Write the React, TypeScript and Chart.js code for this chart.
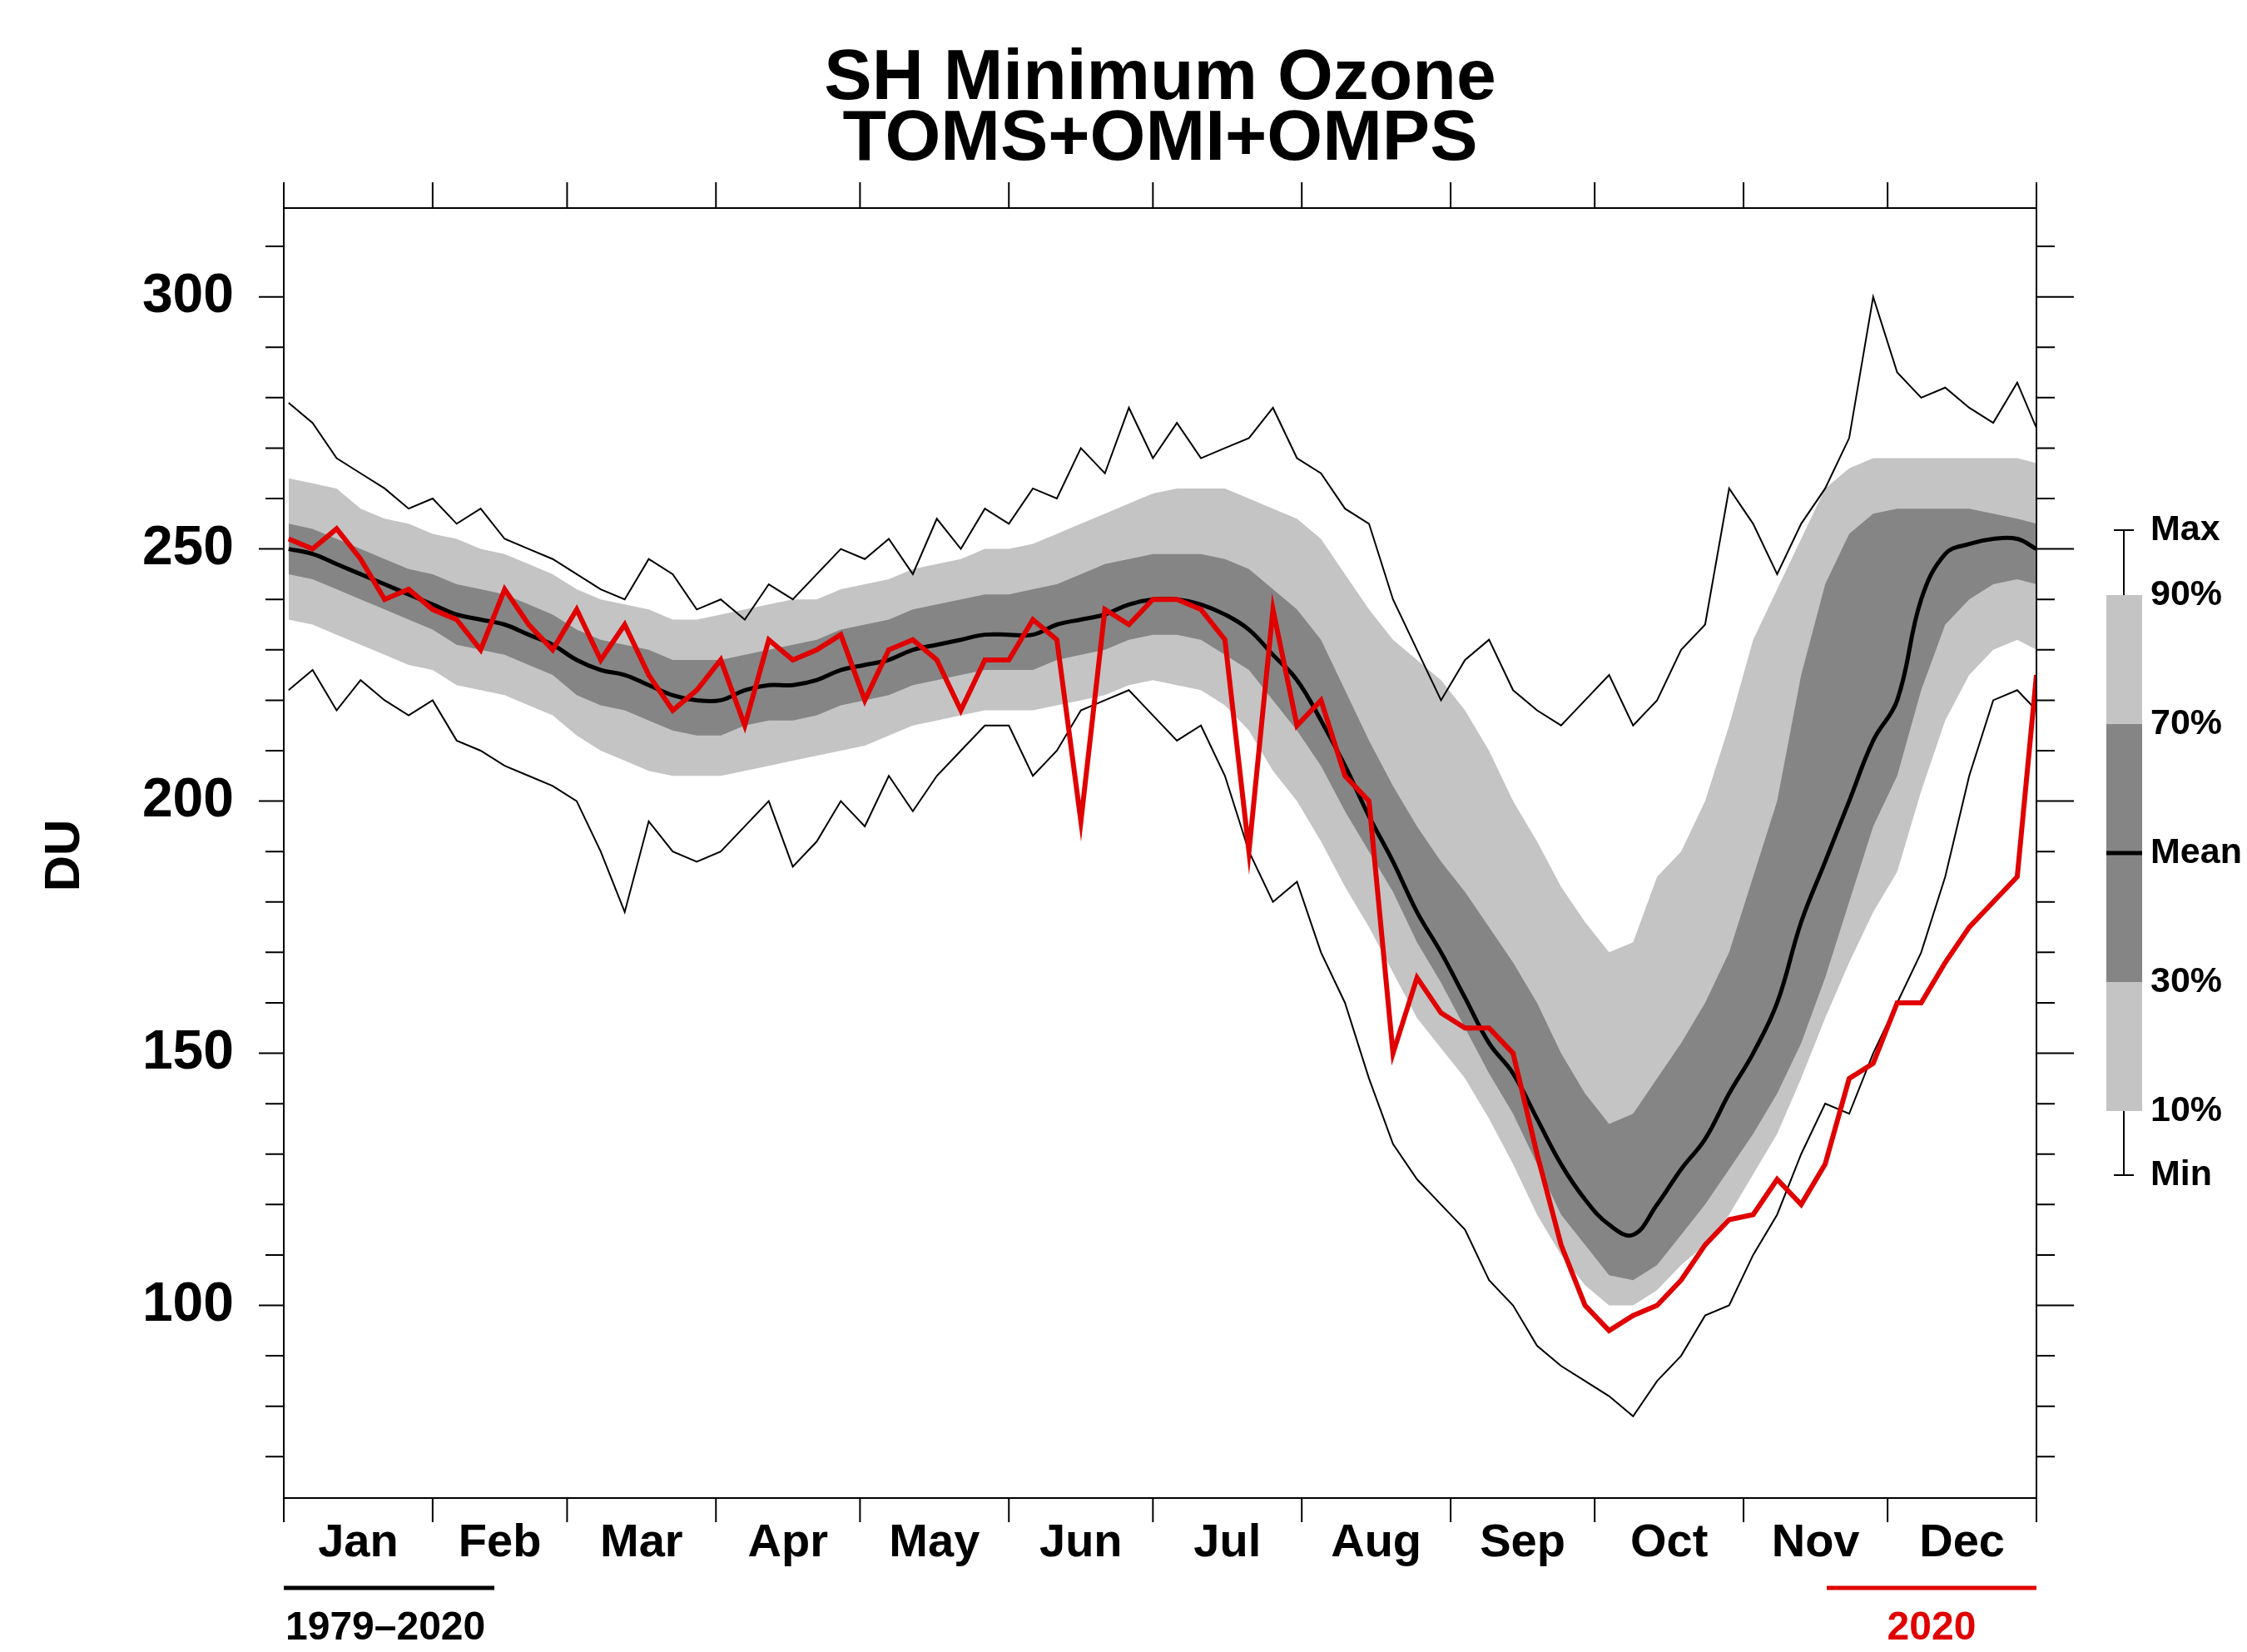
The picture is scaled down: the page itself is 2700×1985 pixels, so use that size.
import React, { useEffect, useRef } from "react";
import { Chart, registerables } from "chart.js";
Chart.register(...registerables);

const days = [1,6,11,16,21,26,31,36,41,46,51,56,61,66,71,76,81,86,91,96,101,106,111,116,121,126,131,136,141,146,151,156,161,166,171,176,181,186,191,196,201,206,211,216,221,226,231,236,241,246,251,256,261,266,271,276,281,286,291,296,301,306,311,316,321,326,331,336,341,346,351,356,361,365];
const meanVals = [250,249,247,245,243,241,239, 237,236,235,233,231, 228,226,225,223,221,220, 220,222,223,223,224,226, 227,228,230,231,232,233, 233,233,235,236,237,239,240, 240,239,237,234,229,224, 216,207,197,188,178,170, 161,152,146,137,128,121, 116,114,120,127,133,142, 150,160,176,188,200,212, 220,240,249,251,252,252,250];
const p90Vals = [264,263,262,258,256,255,253, 252,250,249,247,245, 242,240,239,238,236,236, 237,238,239,240,240,242, 243,244,246,247,248,250, 250,251,253,255,257,259,261, 262,262,262,260,258,256, 252,245,238,232,228,224, 218,210,200,192,183,176, 170,172,185,190,200,215, 232,242,252,262,266,268, 268,268,268,268,268,268,267];
const p70Vals = [255,254,252,250,248,246,245, 243,242,241,239,237, 234,232,231,230,228,228, 228,229,230,231,232,234, 235,236,238,239,240,241, 241,242,243,245,247,248,249, 249,249,248,246,242,238, 232,222,212,203,195,188, 182,175,168,160,150,142, 136,138,145,152,160,170, 185,200,225,243,253,257, 258,258,258,258,257,256,255];
const p30Vals = [245,244,242,240,238,236,234, 231,230,229,227,225, 221,219,218,216,214,213, 213,215,216,216,217,219, 220,221,223,224,225,226, 226,226,228,229,230,232,233, 233,232,229,226,220,214, 207,198,190,182,172,164, 155,146,138,128,118,112, 106,105,108,114,120,127, 134,142,152,165,180,195, 205,222,235,240,243,244,243];
const p10Vals = [236,235,233,231,229,227,226, 223,222,221,219,217, 213,210,208,206,205,205, 205,206,207,208,209,210, 211,213,215,216,217,218, 218,218,219,220,221,223,224, 223,222,219,214,206,200, 192,183,175,166,157,151, 145,137,128,118,110,104, 100,100,103,108,112,118, 126,134,145,157,168,178, 186,202,216,225,230,232,230];
const maxVals = [279,275,268,265,262,258,260, 255,258,252,250,248, 245,242,240,248,245,238, 240,236,243,240,245,250, 248,252,245,256,250,258, 255,262,260,270,265,278,268, 275,268,270,272,278,268, 265,258,255,240,230,220, 228,232,222,218,215,220, 225,215,220,230,235,262, 255,245,255,262,272,300, 285,280,282,278,275,283,274];
const minVals = [222,226,218,224,220,217,220, 212,210,207,205,203, 200,190,178,196,190,188, 190,195,200,187,192,200, 195,205,198,205,210,215, 215,205,210,218,220,222,217, 212,215,205,190,180,184, 170,160,145,132,125,120, 115,105,100,92,88,85, 82,78,85,90,98,100, 110,118,130,140,138,150, 160,170,185,205,220,222,218];
const y2020 = [252,250,254,248,240,242,238, 236,230,242,235,230, 238,228,235,225,218,222, 228,215,232,228,230,233, 220,230,232,228,218,228, 228,236,232,196,238,235,240, 240,238,232,190,238,215, 220,205,200,150,165,158, 155,155,150,130,112,100, 95,98,100,105,112,117, 118,125,120,128,145,148, 160,160,168,175,180,185,225];
const monthStarts = [0,31,59,90,120,151,181,212,243,273,304,334,365];
const monthNames = ["Jan","Feb","Mar","Apr","May","Jun","Jul","Aug","Sep","Oct","Nov","Dec"];
const yLabels = [100,150,200,250,300];

const pts = (v: number[]) => v.map((y, i) => ({ x: days[i], y }));
const FONT = "'Liberation Sans', Arial, sans-serif";

const deco = {
  id: "deco",
  afterDraw(c: any) {
    const ctx = c.ctx, a = c.chartArea, xs = c.scales.x, ys = c.scales.y;
    ctx.save();
    ctx.strokeStyle = "#000"; ctx.fillStyle = "#000"; ctx.lineWidth = 2;
    ctx.strokeRect(a.left, a.top, a.right - a.left, a.bottom - a.top);
    ctx.beginPath();
    monthStarts.forEach((d) => {
      const x = xs.getPixelForValue(d);
      ctx.moveTo(x, a.top); ctx.lineTo(x, a.top - 31);
      ctx.moveTo(x, a.bottom); ctx.lineTo(x, a.bottom + 29);
    });
    for (let v = 70; v <= 310; v += 10) {
      const y = ys.getPixelForValue(v);
      const major = v % 50 === 0;
      ctx.moveTo(a.left, y); ctx.lineTo(a.left - (major ? 30 : 22), y);
      ctx.moveTo(a.right, y); ctx.lineTo(a.right + (major ? 45 : 22), y);
    }
    ctx.stroke();
    ctx.font = `bold 66px ${FONT}`; ctx.textAlign = "right"; ctx.textBaseline = "middle";
    yLabels.forEach((v) => ctx.fillText(String(v), 281, ys.getPixelForValue(v)));
    ctx.font = `bold 56px ${FONT}`; ctx.textAlign = "center";
    monthNames.forEach((m, i) => ctx.fillText(m, xs.getPixelForValue((monthStarts[i] + monthStarts[i + 1]) / 2), 1855));
    ctx.font = `bold 86px ${FONT}`;
    ctx.fillText("SH Minimum Ozone", 1394, 95);
    ctx.fillText("TOMS+OMI+OMPS", 1394, 168);
    ctx.save(); ctx.translate(78, 1028); ctx.rotate(-Math.PI / 2);
    ctx.font = `bold 60px ${FONT}`; ctx.fillText("DU", 0, 0); ctx.restore();
    ctx.lineWidth = 5;
    ctx.beginPath(); ctx.moveTo(341, 1908); ctx.lineTo(594, 1908); ctx.stroke();
    ctx.font = `bold 48px ${FONT}`; ctx.textAlign = "left";
    ctx.fillText("1979\u20132020", 343, 1957);
    ctx.strokeStyle = "#e00000"; ctx.fillStyle = "#e00000";
    ctx.beginPath(); ctx.moveTo(2195, 1908); ctx.lineTo(2447, 1908); ctx.stroke();
    ctx.textAlign = "center"; ctx.fillText("2020", 2321, 1957);
    ctx.strokeStyle = "#000"; ctx.fillStyle = "#000";
    const bx = 2531, bw = 43, cx = 2552;
    const yMax = 637, y90 = 715, y70 = 870, yM = 1025, y30 = 1180, y10 = 1335, yMin = 1412;
    ctx.fillStyle = "#c4c4c4"; ctx.fillRect(bx, y90, bw, y70 - y90); ctx.fillRect(bx, y30, bw, y10 - y30);
    ctx.fillStyle = "#858585"; ctx.fillRect(bx, y70, bw, y30 - y70);
    ctx.lineWidth = 2; ctx.beginPath();
    ctx.moveTo(cx, yMax); ctx.lineTo(cx, y90); ctx.moveTo(cx - 12, yMax); ctx.lineTo(cx + 12, yMax);
    ctx.moveTo(cx, y10); ctx.lineTo(cx, yMin); ctx.moveTo(cx - 12, yMin); ctx.lineTo(cx + 12, yMin);
    ctx.stroke();
    ctx.lineWidth = 5; ctx.beginPath(); ctx.moveTo(bx, yM); ctx.lineTo(bx + bw, yM); ctx.stroke();
    ctx.fillStyle = "#000"; ctx.font = `bold 43px ${FONT}`; ctx.textAlign = "left";
    const labs: [string, number][] = [["Max", yMax], ["90%", y90], ["70%", y70], ["Mean", yM], ["30%", y30], ["10%", y10], ["Min", yMin]];
    labs.forEach(([t, y]) => ctx.fillText(t, 2584, y));
    ctx.restore();
  },
};

export default function App() {
  const ref = useRef<HTMLCanvasElement>(null);
  useEffect(() => {
    const line = (data: number[], color: string, w: number, order: number, extra: any = {}) => ({
      data: pts(data), borderColor: color, borderWidth: w, pointRadius: 0, fill: false, order, ...extra,
    });
    const chart = new Chart(ref.current!, {
      type: "line",
      data: {
        datasets: [
          line(p90Vals, "rgba(0,0,0,0)", 0, 10, { fill: 1, backgroundColor: "#c4c4c4" }),
          line(p10Vals, "rgba(0,0,0,0)", 0, 10),
          line(p70Vals, "rgba(0,0,0,0)", 0, 9, { fill: 3, backgroundColor: "#858585" }),
          line(p30Vals, "rgba(0,0,0,0)", 0, 9),
          line(maxVals, "#000", 2, 5),
          line(minVals, "#000", 2, 5),
          line(meanVals, "#000", 5, 2, { tension: 0.4 }),
          line(y2020, "#e00000", 6, 1),
        ],
      },
      options: {
        responsive: false, animation: false,
        layout: { padding: { left: 341, right: 253, top: 250, bottom: 185 } },
        plugins: { legend: { display: false }, tooltip: { enabled: false }, title: { display: false } },
        scales: {
          x: { type: "linear", min: 0, max: 365, display: false },
          y: { min: 61.8, max: 317.6, display: false },
        },
      },
      plugins: [deco],
    });
    return () => chart.destroy();
  }, []);
  return (
    <div style={{ position: "fixed", left: 0, top: 0, width: 2700, height: 1985, background: "#fff" }}>
      <canvas ref={ref} width={2700} height={1985} style={{ width: 2700, height: 1985 }} />
    </div>
  );
}
